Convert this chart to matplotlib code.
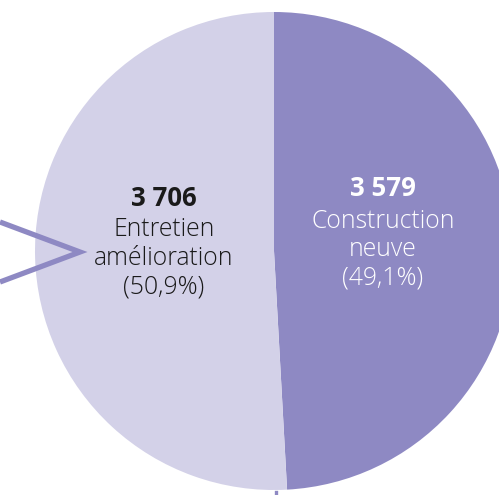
import matplotlib.pyplot as plt

# data
labels = ["Construction\nneuve", "Entretien\namélioration"]
values = [3579, 3706]
numbers = ["3 579", "3 706"]
percents = ["(49,1%)", "(50,9%)"]
colors = ["#8e89c3", "#d3d1e8"]
text_colors = ["white", "#1a1a1a"]

W, H = 499, 495
fig = plt.figure(figsize=(W / 100, H / 100), dpi=100)
ax = fig.add_axes([0, 0, 1, 1])

cx, cy, r = 274, H - 251, 239
ax.pie(values, colors=colors, startangle=90, counterclock=False,
       center=(cx, cy), radius=r, frame=True,
       wedgeprops=dict(linewidth=0))
ax.set_xlim(0, W)
ax.set_ylim(0, H)
ax.set_aspect("equal")
ax.axis("off")

# chevron pointer on the left and small tick at the bottom
ax.plot([0, cx - 194, 0], [cy + 29, cy - 1, cy - 31], color=colors[0],
        lw=3.8, solid_joinstyle="miter", solid_capstyle="butt", clip_on=False)
ax.plot([cx + 2, cx + 2], [cy - r - 2, 0], color=colors[0], lw=2.4)

font = ["Open Sans", "DejaVu Sans"]
pos = [(383, H - 189), (164, H - 198)]
for i in range(2):
    x, y = pos[i]
    ax.text(x, y, numbers[i], ha="center", va="center", fontsize=18.5,
            fontweight="bold", color=text_colors[i], family=font)
    lines = labels[i].split("\n") + [percents[i]]
    for j, ln in enumerate(lines):
        ax.text(x, y - 32 - 28.7 * j, ln, ha="center", va="center",
                fontsize=17.8, fontweight="light", color=text_colors[i],
                family=font)

fig.savefig("out.png", dpi=100)
